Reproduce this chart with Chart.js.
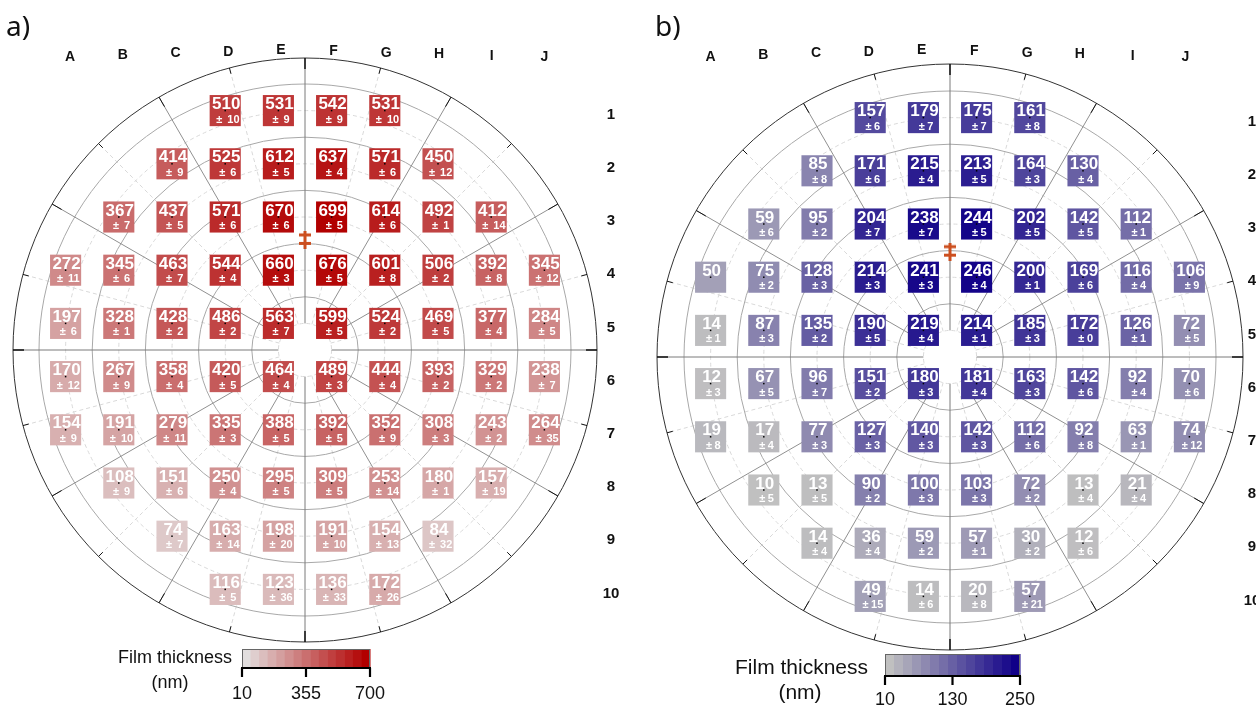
<!DOCTYPE html>
<html><head><meta charset="utf-8">
<script src="https://cdn.jsdelivr.net/npm/chart.js@4.4.1/dist/chart.umd.min.js"></script>
<style>
html,body{margin:0;padding:0;background:#fff;}
#wrap{position:relative;width:1256px;height:708px;overflow:hidden;background:#fff;}
canvas{position:absolute;top:0;}
</style></head><body>
<div id="wrap"><canvas id="ca" width="628" height="708" style="left:0"></canvas><canvas id="cb" width="628" height="708" style="left:628px"></canvas></div>
<script>
const columns = ['A','B','C','D','E','F','G','H','I','J'];
const rowLabels = ['1','2','3','4','5','6','7','8','9','10'];
const thickA = [
 [null,null,null,510,531,542,531,null,null,null],
 [null,null,414,525,612,637,571,450,null,null],
 [null,367,437,571,670,699,614,492,412,null],
 [272,345,463,544,660,676,601,506,392,345],
 [197,328,428,486,563,599,524,469,377,284],
 [170,267,358,420,464,489,444,393,329,238],
 [154,191,279,335,388,392,352,308,243,264],
 [null,108,151,250,295,309,253,180,157,null],
 [null,null,74,163,198,191,154,84,null,null],
 [null,null,null,116,123,136,172,null,null,null]
];
const errA = [
 [null,null,null,10,9,9,10,null,null,null],
 [null,null,9,6,5,4,6,12,null,null],
 [null,7,5,6,6,5,6,1,14,null],
 [11,6,7,4,3,5,8,2,8,12],
 [6,1,2,2,7,5,2,5,4,5],
 [12,9,4,5,4,3,4,2,2,7],
 [9,10,11,3,5,5,9,3,2,35],
 [null,9,6,4,5,5,14,1,19,null],
 [null,null,7,14,20,10,13,32,null,null],
 [null,null,null,5,36,33,26,null,null,null]
];
const thickB = [
 [null,null,null,157,179,175,161,null,null,null],
 [null,null,85,171,215,213,164,130,null,null],
 [null,59,95,204,238,244,202,142,112,null],
 [50,75,128,214,241,246,200,169,116,106],
 [14,87,135,190,219,214,185,172,126,72],
 [12,67,96,151,180,181,163,142,92,70],
 [19,17,77,127,140,142,112,92,63,74],
 [null,10,13,90,100,103,72,13,21,null],
 [null,null,14,36,59,57,30,12,null,null],
 [null,null,null,49,14,20,57,null,null,null]
];
const errB = [
 [null,null,null,6,7,7,8,null,null,null],
 [null,null,8,6,4,5,3,4,null,null],
 [null,6,2,7,7,5,5,5,1,null],
 [null,2,3,3,3,4,1,6,4,9],
 [1,3,2,5,4,1,3,0,1,5],
 [3,5,7,2,3,4,3,6,4,6],
 [8,4,3,3,3,3,6,8,1,12],
 [null,5,5,2,3,3,2,4,4,null],
 [null,null,4,4,2,1,2,6,null,null],
 [null,null,null,15,6,8,21,null,null,null]
];
const rangeA = [10, 700];
const rangeB = [10, 250];
const colorbarTicksA = [10, 355, 700];
const colorbarTicksB = [10, 130, 250];
const markerA = [{x: 4.5, y: 3.43}];
const markerB = [{x: 4.5, y: 3.52}];

const FONT = '"Liberation Sans", Arial, sans-serif';

function makeCmap(c0, c1, lo, hi){
  return function(v){
    let t = (v - lo) / (hi - lo); t = Math.max(0, Math.min(1, t));
    const c = c0.map((a,i)=>Math.round(a + (c1[i]-a)*t));
    return 'rgb(' + c.join(',') + ')';
  };
}

function markerCanvas(){
  const c = document.createElement('canvas'); c.width = 12; c.height = 18;
  const g = c.getContext('2d'); g.fillStyle = '#cc4f1f';
  g.fillRect(4.5, 0, 3, 18);
  g.fillRect(0, 2.5, 12, 3);
  g.fillRect(0, 11, 12, 3);
  return c;
}

function makePanel(id, cfg){
  const pts = [], cols = [];
  for (let r = 0; r < 10; r++) for (let c = 0; c < 10; c++){
    const v = cfg.thick[r][c]; if (v == null) continue;
    pts.push({x: c, y: r + 1, v: v, e: cfg.err[r][c]});
    cols.push(cfg.cmap(v));
  }
  const polarPlugin = {
    id: 'polar',
    beforeDatasetsDraw(chart){
      const ctx = chart.ctx, xs = chart.scales.x, ys = chart.scales.y;
      const cx = xs.getPixelForValue(4.5), cy = ys.getPixelForValue(5.5);
      const u = xs.getPixelForValue(5.5) - cx;
      const R = (chart.chartArea.right - chart.chartArea.left) / 2;
      const r0 = 0.5 * u;
      ctx.save();
      ctx.lineWidth = 1;
      // dashed circles
      ctx.setLineDash([4,3]); ctx.strokeStyle = '#d9d9d9';
      [0.5,1.5,2.5,3.5,4.5].forEach(k=>{ctx.beginPath(); ctx.arc(cx,cy,k*u,0,Math.PI*2); ctx.stroke();});
      // dashed spokes
      for (let a = 15; a < 360; a += 30){
        const t = a*Math.PI/180;
        ctx.beginPath(); ctx.moveTo(cx + r0*Math.cos(t), cy + r0*Math.sin(t));
        ctx.lineTo(cx + R*Math.cos(t), cy + R*Math.sin(t)); ctx.stroke();
      }
      ctx.setLineDash([]);
      // solid circles
      ctx.strokeStyle = '#a8a8a8';
      [1,2,3,4,5].forEach(k=>{ctx.beginPath(); ctx.arc(cx,cy,k*u,0,Math.PI*2); ctx.stroke();});
      // solid spokes
      for (let a = 0; a < 360; a += 30){
        const t = a*Math.PI/180;
        ctx.strokeStyle = (a % 90 === 0) ? '#7a7a7a' : '#909090';
        ctx.beginPath(); ctx.moveTo(cx + r0*Math.cos(t), cy + r0*Math.sin(t));
        ctx.lineTo(cx + R*Math.cos(t), cy + R*Math.sin(t)); ctx.stroke();
      }
      // outer circle
      ctx.strokeStyle = '#333'; ctx.beginPath(); ctx.arc(cx,cy,R,0,Math.PI*2); ctx.stroke();
      // ticks
      ctx.strokeStyle = '#111';
      for (let a = 0; a < 360; a += 15){
        const t = a*Math.PI/180, L = (a % 30 === 0) ? 11 : 6;
        ctx.lineWidth = (a % 90 === 0) ? 1.5 : 1;
        ctx.beginPath(); ctx.moveTo(cx + (R-L)*Math.cos(t), cy + (R-L)*Math.sin(t));
        ctx.lineTo(cx + R*Math.cos(t), cy + R*Math.sin(t)); ctx.stroke();
      }
      ctx.restore();
    },
    afterDatasetsDraw(chart){
      const ctx = chart.ctx, xs = chart.scales.x, ys = chart.scales.y;
      const meta = chart.getDatasetMeta(0);
      ctx.save();
      meta.data.forEach((el, i) => {
        const p = pts[i];
        ctx.fillStyle = '#000';
        ctx.fillRect(el.x - 0.75, el.y - 0.75, 1.5, 1.5);
        ctx.fillStyle = '#fff';
        ctx.textAlign = 'center'; ctx.textBaseline = 'middle';
        ctx.font = 'bold ' + cfg.valFont + 'px ' + FONT;
        ctx.fillText(String(p.v), el.x + 1, el.y - 6);
        if (p.e != null){
          ctx.font = 'bold ' + cfg.errFont + 'px ' + FONT;
          const s1 = '\u00b1', s2 = String(p.e);
          const w1 = ctx.measureText(s1).width, w2 = ctx.measureText(s2).width;
          const W = w1 + cfg.errGap + w2;
          const x0 = el.x + 2.7 - W/2;
          ctx.textAlign = 'left';
          ctx.fillText(s1, x0, el.y + 9);
          ctx.fillText(s2, x0 + w1 + cfg.errGap, el.y + 9);
        }
      });
      // column labels
      ctx.fillStyle = '#111'; ctx.textAlign = 'center'; ctx.textBaseline = 'middle';
      ctx.font = 'bold 14px ' + FONT;
      columns.forEach((c, i) => {
        const x = xs.getPixelForValue(i) + cfg.lblDx0 + cfg.lblDxSlope*i;
        const y = Math.min(57.5, 50 + 7*Math.abs(i - 4.3)/4.5);
        ctx.fillText(c, x, y);
      });
      // row labels
      ctx.font = 'bold 15px ' + FONT;
      rowLabels.forEach((r, i) => {
        ctx.fillText(r, cfg.rowLblX, ys.getPixelForValue(i+1) + 4);
      });
      // panel label
      ctx.textAlign = 'left'; ctx.textBaseline = 'alphabetic';
      ctx.font = '28px "Noto Sans", "Open Sans", sans-serif';
      ctx.fillText(cfg.panelLabel, cfg.panelLblX, 36);
      // colorbar
      const cb = cfg.cb, n = 15;
      const [lo, hi] = cfg.range;
      for (let k = 0; k < n; k++){
        const xa = cb.x0 + (cb.x1 - cb.x0)*k/n, xb = cb.x0 + (cb.x1 - cb.x0)*(k+1)/n;
        ctx.fillStyle = cfg.cmap(lo + (hi - lo)*k/(n-1));
        ctx.fillRect(xa, cb.y0, xb - xa + 0.5, cb.y1 - cb.y0);
      }
      ctx.strokeStyle = '#666'; ctx.lineWidth = 1;
      ctx.strokeRect(cb.x0 + 0.5, cb.y0 + 0.5, cb.x1 - cb.x0 - 1, cb.y1 - cb.y0);
      ctx.strokeStyle = '#000'; ctx.lineWidth = 2.2;
      ctx.beginPath(); ctx.moveTo(cb.x0 - 1, cb.y1); ctx.lineTo(cb.x1 + 1, cb.y1); ctx.stroke();
      ctx.fillStyle = '#111'; ctx.textAlign = 'center'; ctx.textBaseline = 'middle';
      ctx.font = '18px ' + FONT;
      cfg.ticks.forEach(t => {
        const x = cb.x0 + (cb.x1 - cb.x0)*(t - lo)/(hi - lo);
        ctx.beginPath(); ctx.moveTo(x, cb.y1); ctx.lineTo(x, cb.y1 + 9); ctx.stroke();
        ctx.fillText(String(t), x, cb.lblY);
      });
      ctx.font = cfg.titleFont + 'px ' + FONT;
      ctx.textAlign = 'right';
      ctx.fillText('Film thickness', cb.titleRight, cb.titleY);
      ctx.textAlign = 'center';
      ctx.fillText('(nm)', cb.nmX, cb.nmY);
      ctx.restore();
    }
  };
  return new Chart(document.getElementById(id), {
    type: 'scatter',
    data: { datasets: [
      { data: pts, backgroundColor: cols, pointStyle: 'rect', pointRadius: 22, pointHoverRadius: 22, borderWidth: 0, pointBorderWidth: 0 },
      { data: cfg.marker, pointStyle: markerCanvas(), pointRadius: 9, borderWidth: 0 }
    ]},
    options: {
      responsive: false, animation: false, devicePixelRatio: 1, events: [],
      layout: { padding: cfg.pad, autoPadding: false },
      plugins: { legend: { display: false }, tooltip: { enabled: false } },
      scales: {
        x: { type: 'linear', display: false, min: 4.5 - cfg.Ru, max: 4.5 + cfg.Ru },
        y: { type: 'linear', display: false, reverse: true, min: 5.5 - cfg.Ru, max: 5.5 + cfg.Ru }
      }
    },
    plugins: [polarPlugin]
  });
}

makePanel('ca', {
  thick: thickA, err: errA, range: rangeA, ticks: colorbarTicksA, marker: markerA,
  cmap: makeCmap([226,222,222],[178,0,0], rangeA[0], rangeA[1]),
  Ru: 292/53.2, pad: {left: 13, top: 58, right: 31, bottom: 66},
  valFont: 17, errFont: 11, errGap: 5,
  lblDx0: 4.5, lblDxSlope: -0.5, rowLblX: 611, panelLabel: 'a)', panelLblX: 6,
  titleFont: 18,
  cb: {x0: 242, x1: 370, y0: 649, y1: 668, lblY: 694, titleRight: 232, titleY: 658, nmX: 170, nmY: 683}
});
makePanel('cb', {
  thick: thickB, err: errB, range: rangeB, ticks: colorbarTicksB, marker: markerB,
  cmap: makeCmap([192,192,192],[16,0,136], rangeB[0], rangeB[1]),
  Ru: 293/53.2, pad: {left: 29, top: 64, right: 13, bottom: 58},
  valFont: 17, errFont: 11, errGap: 2.5,
  lblDx0: 0, lblDxSlope: -0.45, rowLblX: 624, panelLabel: 'b)', panelLblX: 27,
  titleFont: 21,
  cb: {x0: 257, x1: 392, y0: 654, y1: 676, lblY: 700, titleRight: 240, titleY: 668, nmX: 172, nmY: 693}
});
</script>
</body></html>
